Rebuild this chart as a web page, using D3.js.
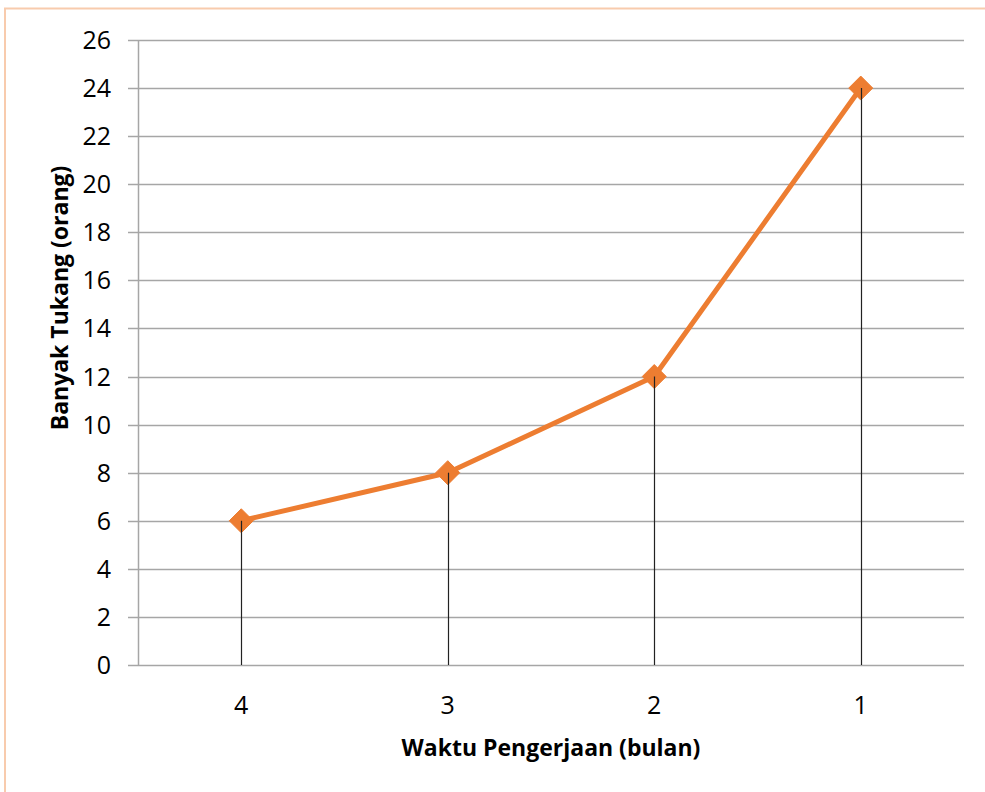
<!DOCTYPE html>
<html>
<head>
<meta charset="utf-8">
<script src="https://cdn.jsdelivr.net/npm/d3@7"></script>
<style>
  body { margin: 0; background: #fff; }
  svg { display: block; }
</style>
</head>
<body>
<div id="chart"></div>
<script>
// data
var categories = ['4', '3', '2', '1']
var values = [6, 8, 12, 24]
var yTicks = [0, 2, 4, 6, 8, 10, 12, 14, 16, 18, 20, 22, 24, 26]
var xTitle = 'Waktu Pengerjaan (bulan)'
var yTitle = 'Banyak Tukang (orang)'

var width = 985, height = 792
var margin = {top: 40, right: 21, bottom: 127, left: 138}
var font = '"Open Sans", "Noto Sans", sans-serif'
var orange = '#ED7D31'

var svg = d3.select('#chart').append('svg')
    .attr('width', width)
    .attr('height', height)

// outer frame of the chart area
svg.append('rect')
    .attr('x', 5)
    .attr('y', 8.5)
    .attr('width', width + 10)
    .attr('height', height + 10)
    .attr('fill', 'none')
    .attr('stroke', '#F8CBAD')
    .attr('stroke-width', 2)

var x = d3.scaleBand()
    .domain(categories)
    .range([margin.left, width - margin.right])

var y = d3.scaleLinear()
    .domain([0, 26])
    .range([height - margin.bottom, margin.top])

// horizontal gridlines, extending left as tick marks
var grid = svg.append('g')
grid.selectAll('line')
    .data(yTicks)
    .enter().append('line')
    .attr('x1', margin.left - 10)
    .attr('x2', width - margin.right)
    .attr('y1', d => Math.round(y(d)) + 0.5)
    .attr('y2', d => Math.round(y(d)) + 0.5)
    .attr('stroke', '#a6a6a6')
    .attr('stroke-width', 1.5)

// y axis line
svg.append('line')
    .attr('x1', margin.left + 0.5)
    .attr('x2', margin.left + 0.5)
    .attr('y1', y(26))
    .attr('y2', y(0))
    .attr('stroke', '#a6a6a6')
    .attr('stroke-width', 1.5)

// y tick labels
svg.append('g').selectAll('text')
    .data(yTicks)
    .enter().append('text')
    .attr('x', margin.left - 27)
    .attr('y', d => y(d))
    .attr('dy', '0.36em')
    .attr('text-anchor', 'end')
    .style('font-family', font)
    .style('font-size', '25px')
    .attr('fill', '#000')
    .text(d => d)

// x tick labels
svg.append('g').selectAll('text')
    .data(categories)
    .enter().append('text')
    .attr('x', d => x(d) + x.bandwidth() / 2)
    .attr('y', 705)
    .attr('dy', '0.36em')
    .attr('text-anchor', 'middle')
    .style('font-family', font)
    .style('font-size', '25px')
    .attr('fill', '#000')
    .text(d => d)

var points = categories.map((c, i) => ({c: c, v: values[i]}))

// series line
var line = d3.line()
    .x(d => x(d.c) + x.bandwidth() / 2)
    .y(d => y(d.v))

svg.append('path')
    .datum(points)
    .attr('d', line)
    .attr('fill', 'none')
    .attr('stroke', orange)
    .attr('stroke-width', 5)
    .attr('stroke-linejoin', 'round')

// diamond markers
svg.append('g').selectAll('path')
    .data(points)
    .enter().append('path')
    .attr('transform', d => `translate(${x(d.c) + x.bandwidth() / 2},${y(d.v)})`)
    .attr('d', 'M0,-12L12,0L0,12L-12,0Z')
    .attr('fill', orange)
    .attr('stroke', orange)
    .attr('stroke-width', 1)
    .attr('stroke-linejoin', 'round')

// drop lines
svg.append('g').selectAll('line')
    .data(points)
    .enter().append('line')
    .attr('x1', d => Math.round(x(d.c) + x.bandwidth() / 2) + 0.5)
    .attr('x2', d => Math.round(x(d.c) + x.bandwidth() / 2) + 0.5)
    .attr('y1', d => y(d.v))
    .attr('y2', y(0))
    .attr('stroke', '#222')
    .attr('stroke-width', 1.2)

// axis titles
svg.append('text')
    .attr('x', (margin.left + width - margin.right) / 2)
    .attr('y', 748)
    .attr('dy', '0.36em')
    .attr('text-anchor', 'middle')
    .style('font-family', font)
    .style('font-size', '23px')
    .style('font-weight', 'bold')
    .text(xTitle)

svg.append('text')
    .attr('transform', 'translate(60,298) rotate(-90)')
    .attr('dy', '0.36em')
    .attr('text-anchor', 'middle')
    .style('font-family', font)
    .style('font-size', '23px')
    .style('font-weight', 'bold')
    .text(yTitle)
</script>
</body>
</html>
